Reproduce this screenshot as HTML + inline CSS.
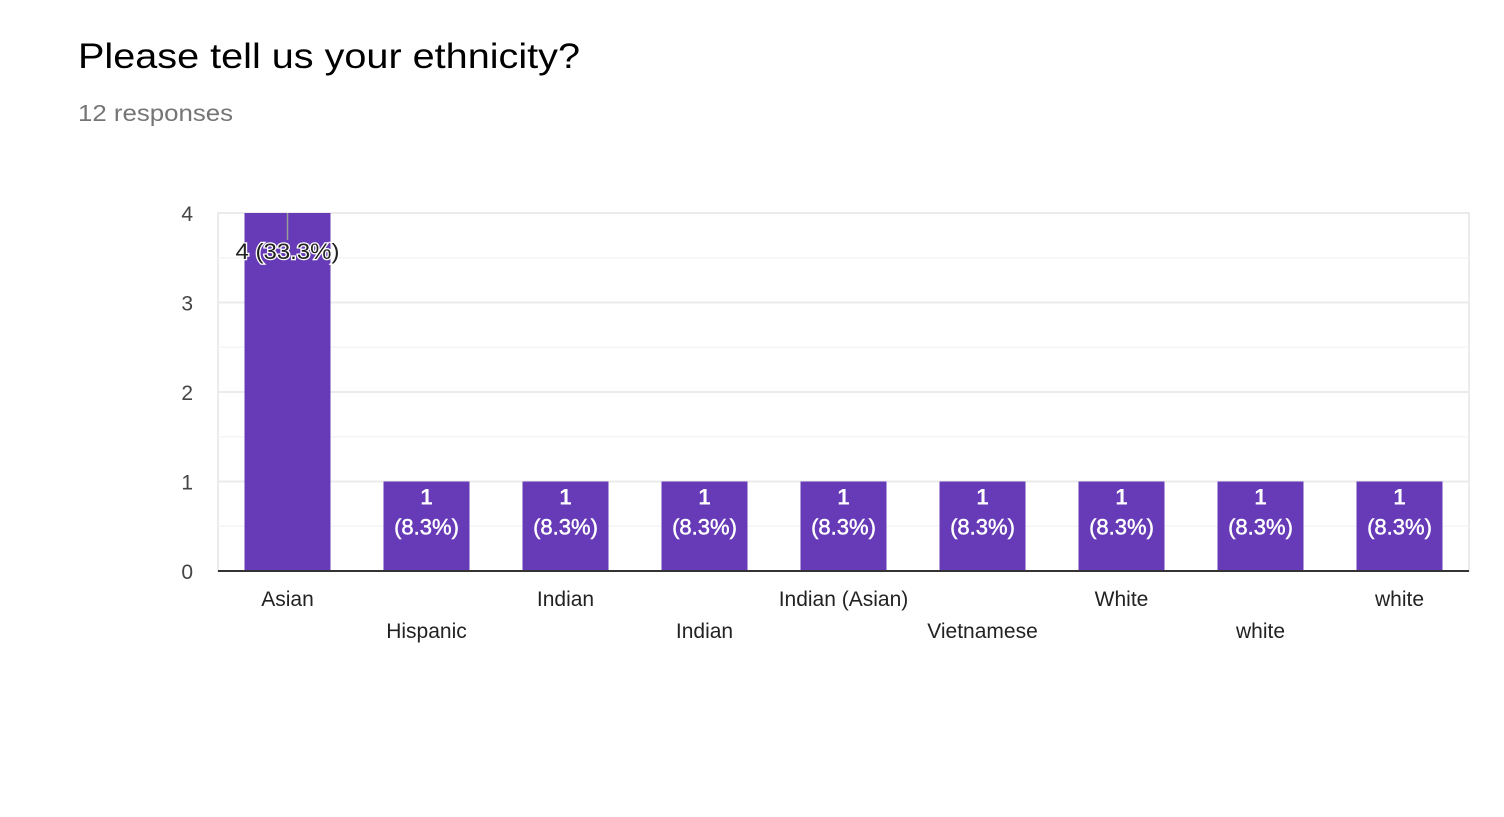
<!DOCTYPE html>
<html><head><meta charset="utf-8"><style>
body{margin:0;background:#fff;width:1504px;height:812px;overflow:hidden;font-family:"Liberation Sans",sans-serif}
</style></head><body>
<svg id="chart" width="1504" height="812" xmlns="http://www.w3.org/2000/svg" font-family="Liberation Sans, sans-serif">
<text x="78" y="68" font-size="35" fill="#000" textLength="502" lengthAdjust="spacingAndGlyphs">Please tell us your ethnicity?</text>
<text x="78" y="121" font-size="23" fill="#757575" textLength="155" lengthAdjust="spacingAndGlyphs">12 responses</text>
<g id="plot"></g>
</svg>
<script>
const categories = ["Asian","Hispanic","Indian","Indian","Indian (Asian)","Vietnamese","White","white","white"];
const counts = [4,1,1,1,1,1,1,1,1];
const percents = ["33.3%","8.3%","8.3%","8.3%","8.3%","8.3%","8.3%","8.3%","8.3%"];
const yTicks = [0,1,2,3,4];
const NS="http://www.w3.org/2000/svg";
const L=218,R=1469,T=213,B=571,yMax=4;
const y=v=>B-(B-T)*v/yMax;
const band=(R-L)/categories.length;
const xc=i=>L+band*(i+0.5);
const g=document.getElementById('plot');
function mk(t,a,txt){const e=document.createElementNS(NS,t);for(const k in a)e.setAttribute(k,a[k]);if(txt!==undefined)e.textContent=txt;g.appendChild(e);return e;}
let f=mk('rect',{x:L,y:T,width:R-L,height:B-T,fill:'none',stroke:'#ebebeb','stroke-width':2});


for(let v=0.5;v<yMax;v+=1){let m=mk('line',{x1:L,x2:R,y1:y(v),y2:y(v),stroke:'#f5f5f5','stroke-width':1.5});

}
yTicks.forEach(v=>{
 if(v>0){let l=mk('line',{x1:L,x2:R,y1:y(v),y2:y(v),stroke:'#ebebeb','stroke-width':2});
 
 }
 let t=mk('text',{x:193,y:y(v)+8,'font-size':21,fill:'#444','text-anchor':'end'},String(v));
 
 
});
const bw=86;
categories.forEach((c,i)=>{
 let r=mk('rect',{x:xc(i)-bw/2,y:y(counts[i]),width:bw,height:B-y(counts[i]),fill:'#673ab7'});
 
 
 if(counts[i]>=yMax){
  let s=mk('line',{x1:xc(i),x2:xc(i),y1:y(counts[i]),y2:y(counts[i])+27,stroke:'#999','stroke-width':1.5});
  
  
  let t=mk('text',{x:xc(i),y:y(counts[i])+46,'font-size':22,fill:'#222','text-anchor':'middle',stroke:'#fff','stroke-width':2.5,'paint-order':'stroke',textLength:104,lengthAdjust:'spacingAndGlyphs'},counts[i]+' ('+percents[i]+')');
  
  
 } else {
  let t1=mk('text',{x:xc(i),y:y(counts[i])+23,'font-size':22,fill:'#fff','text-anchor':'middle','font-weight':'bold'},String(counts[i]));
  
  
  let t2=mk('text',{x:xc(i),y:y(counts[i])+53,'font-size':22,fill:'#fff','text-anchor':'middle',stroke:'#fff','stroke-width':0.5},'('+percents[i]+')');
  
  
 }
 let xl=mk('text',{x:xc(i),y:(i%2===0?606:638),'font-size':21,fill:'#222','text-anchor':'middle'},c);
 
 
});
let ax=mk('line',{x1:L,x2:R,y1:B,y2:B,stroke:'#333','stroke-width':2});


</script>
</body></html>
